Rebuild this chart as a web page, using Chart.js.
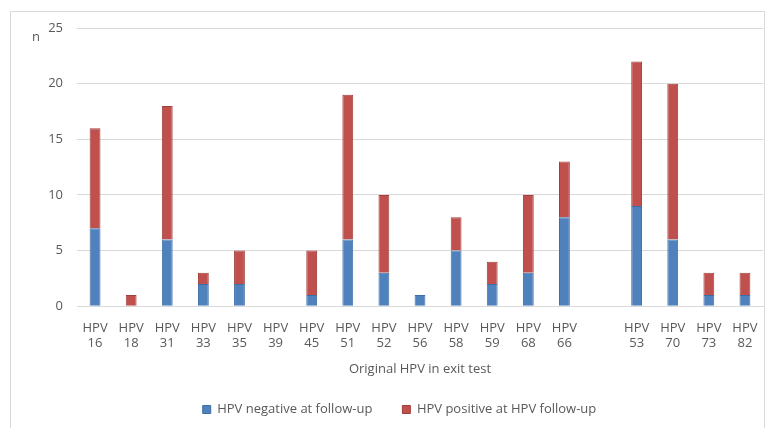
<!DOCTYPE html>
<html>
<head>
<meta charset="utf-8">
<script src="https://cdn.jsdelivr.net/npm/chart.js@4/dist/chart.umd.min.js"></script>
<style>
  html, body { margin: 0; padding: 0; background: #fff; }
  #wrap { position: relative; width: 766px; height: 428px; }
</style>
</head>
<body>
<div id="wrap"><canvas id="chart" width="766" height="428"></canvas></div>
<script>
// ── Data ──────────────────────────────────────────
const types     = ['16', '18', '31', '33', '35', '39', '45', '51', '52', '56', '58', '59', '68', '66', '', '53', '70', '73', '82'];
const negative  = [7, 0, 6, 2, 2, 0, 1, 6, 3, 1, 5, 2, 3, 8, null, 9, 6, 1, 1];
const positive  = [9, 1, 12, 1, 3, 0, 4, 13, 7, 0, 3, 2, 7, 5, null, 13, 14, 2, 2];
const yTicks    = [0, 5, 10, 15, 20, 25];

const labels = types.map(t => t ? ['HPV', t] : '');
const txt = '#595959';
const FONT = 'Open Sans, Liberation Sans, sans-serif';

// ── Frame, "n" label, legend nudge ────────────────
const decor = {
  id: 'decor',
  afterLayout(chart) {
    // legend sits a bit left of the canvas centre in the original
    const lg = chart.legend;
    lg.left += 18; lg.right += 18;
    lg.top -= 4; lg.bottom -= 4;
  },
  beforeDraw(chart) {
    const c = chart.ctx;
    c.save();
    c.fillStyle = '#fff';
    c.fillRect(0, 0, chart.width, chart.height);
    c.strokeStyle = '#d9d9d9';
    c.lineWidth = 1;
    c.strokeRect(10.5, 11.5, 754, 420);
    c.restore();
  },
  afterDraw(chart) {
    const c = chart.ctx;
    c.save();
    c.fillStyle = txt;
    c.font = '13px ' + FONT;
    c.textAlign = 'center';
    c.textBaseline = 'middle';
    c.fillText('n', 36, 37);
    c.restore();
  }
};

new Chart(document.getElementById('chart'), {
  type: 'bar',
  data: {
    labels,
    datasets: [
      {
        label: 'HPV negative at follow-up',
        data: negative,
        backgroundColor: '#4f81bd',
        borderColor: '#3e6ea8',
        borderWidth: 1,
        barPercentage: 0.3,
        categoryPercentage: 1,
      },
      {
        label: 'HPV positive at HPV follow-up',
        data: positive,
        backgroundColor: '#c0504d',
        borderColor: '#a23f3c',
        borderWidth: 1,
        barPercentage: 0.3,
        categoryPercentage: 1,
      }
    ]
  },
  options: {
    responsive: false,
    animation: false,
    layout: { padding: { left: 0, right: 3, top: 28, bottom: -2 } },
    scales: {
      x: {
        stacked: true,
        grid: { display: false },
        border: { color: '#d9d9d9' },
        ticks: { color: txt, font: { family: FONT, size: 13 }, padding: 6, maxRotation: 0, autoSkip: false },
        title: { display: true, text: 'Original HPV in exit test', color: txt, font: { family: FONT, size: 13 }, padding: { top: 4, bottom: 0 } }
      },
      y: {
        stacked: true,
        min: 0,
        max: 25,
        afterBuildTicks: s => { s.ticks = yTicks.map(v => ({ value: v })); },
        afterFit: s => { s.width = 77; },
        grid: { color: '#d9d9d9', drawTicks: false },
        border: { display: false },
        ticks: { color: txt, font: { family: FONT, size: 13 }, padding: 14 }
      }
    },
    plugins: {
      legend: {
        position: 'bottom',
        labels: { color: txt, font: { family: FONT, size: 13 }, boxWidth: 8, boxHeight: 8, padding: 30 }
      },
      tooltip: { enabled: false }
    }
  },
  plugins: [decor]
});
</script>
</body>
</html>
